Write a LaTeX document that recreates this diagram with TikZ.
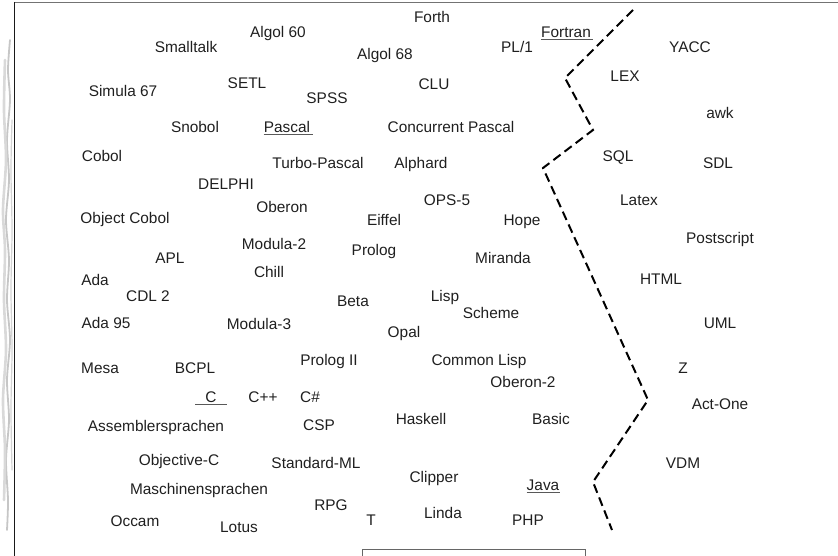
\documentclass[tikz,border=0pt]{standalone}
\usepackage{fontspec}
\setmainfont{Liberation Sans}
\begin{document}
\begin{tikzpicture}[x=1pt,y=-1pt,
  lang/.style={font=\fontsize{15.4}{18}\selectfont, text=black!88, inner sep=0pt,
               text height=11pt, text depth=0pt, anchor=center},
  uline/.style={draw=black!65, line width=1pt},
  frameline/.style={line width=1pt},
  fringe/.style={draw=gray!45, line width=1.8pt, line cap=round},
  divider/.style={draw=black, line width=2pt, dash pattern=on 9pt off 5pt}]
\useasboundingbox (0,0) rectangle (838,556);

% sheet border and the worn left margin
\draw[frameline, draw=black!55, line width=1.6pt] (14,2.5) -- (838,2.5);
\draw[frameline, draw=black!90] (14,2) -- (14,556);
\draw[fringe] plot[smooth] coordinates {(10,40) (8,70) (10,100) (7,140) (9,180) (6,220) (9,260) (7,300) (10,340) (7,380) (9,420) (6,460) (8,500) (7,530)};
\draw[fringe, draw=gray!30, line width=2.6pt] plot[smooth] coordinates {(5,60) (4,110) (6,160) (3,210) (5,250) (4,300) (6,350) (3,400) (5,450) (4,500)};
\draw[fringe, draw=gray!35, line width=1.2pt] plot[smooth] coordinates {(12,120) (11,170) (12,230) (11,290) (12,350) (11,410) (12,470)};

% caption box at the foot
\draw[frameline, draw=black!60] (362,556) -- (362,549) -- (585,549) -- (585,556);

% boundary between programming and other languages
\coordinate (d1) at (633,10);
\coordinate (d2) at (565,78);
\coordinate (d3) at (593,130);
\coordinate (d4) at (543,168);
\coordinate (d5) at (648,400);
\coordinate (d6) at (593,482);
\coordinate (d7) at (612,530);
\draw[divider] (d1) -- (d2) -- (d3) -- (d4) -- (d5) -- (d6) -- (d7);

% programming languages
\node[lang] (forth)      at (432,17)  {Forth};
\node[lang] (algol60)    at (278,32)  {Algol 60};
\node[lang] (smalltalk)  at (186,47)  {Smalltalk};
\node[lang] (algol68)    at (385,54)  {Algol 68};
\node[lang] (pl1)        at (517,47)  {PL/1};
\node[lang] (fortran)    at (566,32)  {Fortran};
\node[lang] (simula)     at (123,91)  {Simula 67};
\node[lang] (setl)       at (247,83)  {SETL};
\node[lang] (spss)       at (327,98)  {SPSS};
\node[lang] (clu)        at (434,84)  {CLU};
\node[lang] (snobol)     at (195,127) {Snobol};
\node[lang] (pascal)     at (287,127) {Pascal};
\node[lang] (concpascal) at (451,127) {Concurrent Pascal};
\node[lang] (cobol)      at (102,156) {Cobol};
\node[lang] (turbo)      at (318,163) {Turbo-Pascal};
\node[lang] (alphard)    at (421,163) {Alphard};
\node[lang] (delphi)     at (226,184) {DELPHI};
\node[lang] (ops)        at (447,200) {OPS-5};
\node[lang] (oberon)     at (282,207) {Oberon};
\node[lang] (objcobol)   at (125,218) {Object Cobol};
\node[lang] (eiffel)     at (384,220) {Eiffel};
\node[lang] (hope)       at (522,220) {Hope};
\node[lang] (modula2)    at (274,244) {Modula-2};
\node[lang] (prolog)     at (374,250) {Prolog};
\node[lang] (miranda)    at (503,258) {Miranda};
\node[lang] (apl)        at (170,258) {APL};
\node[lang] (chill)      at (269,272) {Chill};
\node[lang] (ada)        at (95,280)  {Ada};
\node[lang] (cdl)        at (148,296) {CDL 2};
\node[lang] (lisp)       at (445,296) {Lisp};
\node[lang] (beta)       at (353,301) {Beta};
\node[lang] (scheme)     at (491,313) {Scheme};
\node[lang] (ada95)      at (106,323) {Ada 95};
\node[lang] (modula3)    at (259,324) {Modula-3};
\node[lang] (opal)       at (404,332) {Opal};
\node[lang] (prolog2)    at (329,360) {Prolog II};
\node[lang] (commonlisp) at (479,360) {Common Lisp};
\node[lang] (mesa)       at (100,368) {Mesa};
\node[lang] (bcpl)       at (195,368) {BCPL};
\node[lang] (oberon2)    at (523,382) {Oberon-2};
\node[lang] (c)          at (211,397) {C};
\node[lang] (cpp)        at (263,397) {C++};
\node[lang] (csharp)     at (310,397) {C\#};
\node[lang] (haskell)    at (421,419) {Haskell};
\node[lang] (csp)        at (319,425) {CSP};
\node[lang] (basic)      at (551,419) {Basic};
\node[lang] (asm)        at (156,426) {Assemblersprachen};
\node[lang] (objc)       at (179,460) {Objective-C};
\node[lang] (sml)        at (316,463) {Standard-ML};
\node[lang] (clipper)    at (434,477) {Clipper};
\node[lang] (java)       at (543,485) {Java};
\node[lang] (masch)      at (199,489) {Maschinensprachen};
\node[lang] (rpg)        at (331,505) {RPG};
\node[lang] (linda)      at (443,513) {Linda};
\node[lang] (t)          at (371,520) {T};
\node[lang] (php)        at (528,520) {PHP};
\node[lang] (occam)      at (135,521) {Occam};
\node[lang] (lotus)      at (239,527) {Lotus};

% other languages and notations
\node[lang] (yacc)       at (690,47)  {YACC};
\node[lang] (lex)        at (625,76)  {LEX};
\node[lang] (awk)        at (720,113) {awk};
\node[lang] (sql)        at (618,156) {SQL};
\node[lang] (sdl)        at (718,163) {SDL};
\node[lang] (latex)      at (639,200) {Latex};
\node[lang] (postscript) at (720,238) {Postscript};
\node[lang] (html)       at (661,279) {HTML};
\node[lang] (uml)        at (720,323) {UML};
\node[lang] (z)          at (683,368) {Z};
\node[lang] (actone)     at (720,404) {Act-One};
\node[lang] (vdm)        at (683,463) {VDM};

% underlined entries
\draw[uline] ([yshift=-2pt]fortran.south west) -- ([yshift=-2pt,xshift=2pt]fortran.south east);
\draw[uline] ([yshift=-2pt]pascal.south west) -- ([yshift=-2pt,xshift=3pt]pascal.south east);
\draw[uline] ([yshift=-2pt,xshift=-10pt]c.south west) -- ([yshift=-2pt,xshift=10pt]c.south east);
\draw[uline] ([yshift=-2pt]java.south west) -- ([yshift=-2pt,xshift=1pt]java.south east);
\end{tikzpicture}
\end{document}
